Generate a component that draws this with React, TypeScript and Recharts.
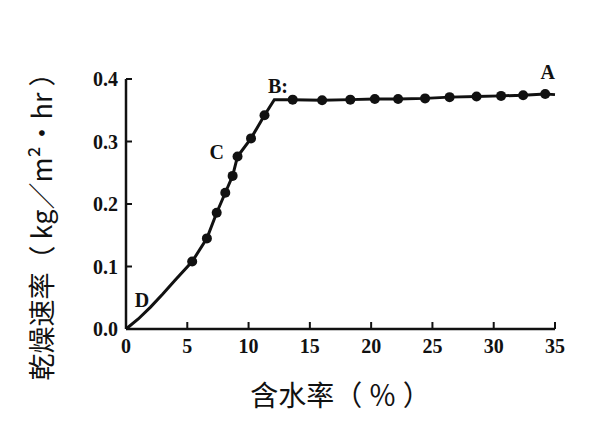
import { LineChart, Line, XAxis, YAxis, ReferenceDot } from "recharts";

// 含水率 (%) と乾燥速率 (kg/m2・hr) — 図から読み取った値
const moisture = [0, 1, 2, 3, 4, 5.4, 6.6, 7.4, 8.1, 8.7, 9.1, 10.2, 11.3, 12.1, 13.6, 16.0, 18.3, 20.3, 22.2, 24.4, 26.4, 28.6, 30.6, 32.4, 34.2, 35];
const rate = [0, 0.016, 0.035, 0.056, 0.078, 0.108, 0.145, 0.186, 0.218, 0.245, 0.276, 0.305, 0.342, 0.367, 0.367, 0.366, 0.367, 0.368, 0.368, 0.369, 0.371, 0.372, 0.373, 0.374, 0.376, 0.375];
// 測定点（黒丸）かどうか
const measured = [false, false, false, false, false, true, true, true, true, true, true, true, true, false, true, true, true, true, true, true, true, true, true, true, true, false];

const xTicks = [0, 5, 10, 15, 20, 25, 30, 35];
const yTicks = [0, 0.1, 0.2, 0.3, 0.4];

const pointNames = ["A", "B:", "C", "D"];
const pointX = [34.4, 12.4, 7.4, 1.3];
const pointY = [0.411, 0.389, 0.283, 0.046];

const data = moisture.map((m, i) => ({ m, r: rate[i], dot: measured[i] }));

const tickFont = { fontFamily: "'Liberation Serif', serif", fontWeight: "bold", fontSize: 20, fill: "#111" };

const XTick = ({ x, y, payload }) => (
	<g>
		<line x1={x} x2={x} y1={y - 8} y2={y - 15} stroke="#111" strokeWidth={2} />
		<text x={x} y={y} dy="0.78em" textAnchor="middle" {...tickFont}>{payload.value}</text>
	</g>
);

const YTick = ({ x, y, payload }) => (
	<g>
		<line x1={x + 8} x2={x + 14} y1={y} y2={y} stroke="#111" strokeWidth={2} />
		<text x={x} y={y} dy="0.35em" textAnchor="end" {...tickFont}>{Number(payload.value).toFixed(1)}</text>
	</g>
);

const Dot = (props) => {
	const { cx, cy, payload, index } = props;
	if (!payload.dot) return <g key={index} />;
	return <circle key={index} cx={cx} cy={cy} r={5} fill="#111" />;
};

const YTitle = () => (
	<text
		transform="translate(40,220) rotate(-90)"
		textAnchor="middle"
		dominantBaseline="central"
		fontFamily="'Noto Sans CJK SC', sans-serif"
		fontSize={27}
		fill="#111"
	>
		乾燥速率（ kg／m²・hr ）
	</text>
);

export default function App() {
	return (
		<div style={{ position: "absolute", left: 0, top: 0, background: "#fff" }}>
			<LineChart width={600} height={426} data={data} margin={{ top: 79, right: 45, bottom: 0, left: 0 }}>
				<XAxis
					dataKey="m"
					type="number"
					domain={[0, 35]}
					ticks={xTicks}
					interval={0}
					height={97}
					tickSize={0}
					tickMargin={8}
					tick={<XTick />}
					axisLine={{ stroke: "#111", strokeWidth: 2.5 }}
					label={{
						value: "含水率（ ％ ）",
						position: "insideBottom",
						offset: 20,
						fontFamily: "'Noto Sans CJK SC', sans-serif",
						fontSize: 28,
						fill: "#111",
					}}
				/>
				<YAxis
					type="number"
					domain={[0, 0.4]}
					ticks={yTicks}
					interval={0}
					width={126}
					tickSize={0}
					tickMargin={8}
					tick={<YTick />}
					axisLine={{ stroke: "#111", strokeWidth: 2.5 }}
					label={<YTitle />}
				/>
				<Line
					type="linear"
					dataKey="r"
					stroke="#111"
					strokeWidth={3}
					dot={<Dot />}
					activeDot={false}
					isAnimationActive={false}
				/>
				{pointNames.map((n, i) => (
					<ReferenceDot
						key={n}
						x={pointX[i]}
						y={pointY[i]}
						r={0}
						fill="none"
						stroke="none"
						ifOverflow="visible"
						label={{ value: n, position: "center", fontFamily: "'Liberation Serif', serif", fontWeight: "bold", fontSize: 20, fill: "#111" }}
					/>
				))}
			</LineChart>
		</div>
	);
}
